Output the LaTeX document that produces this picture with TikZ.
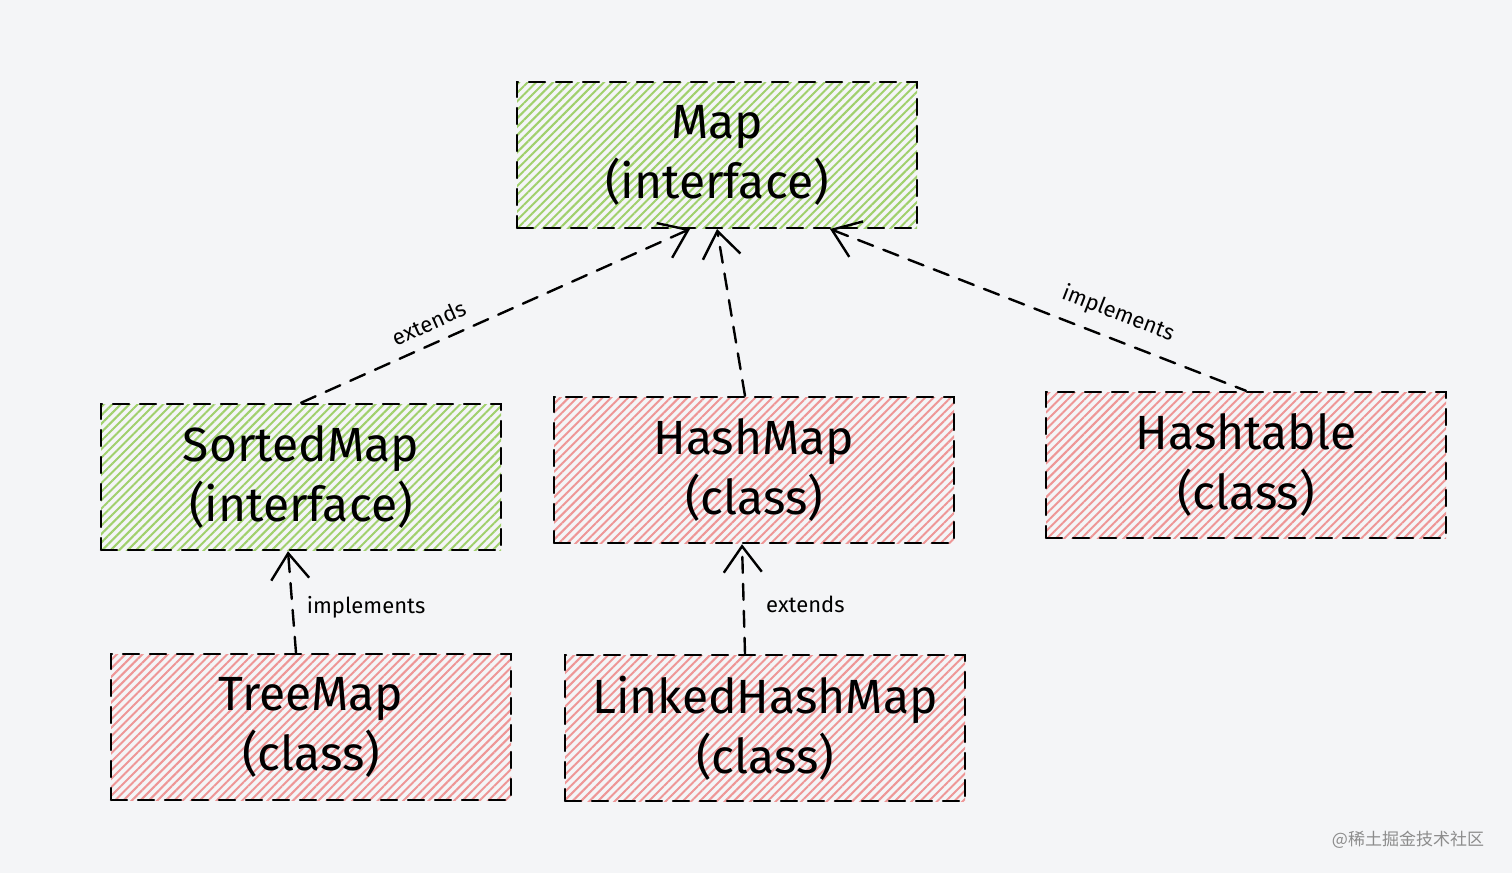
\documentclass[tikz,border=0pt]{standalone}
\usepackage{fontspec}
\setmainfont{Fira Sans}
\newfontfamily\cjk{Noto Sans CJK SC}
\usetikzlibrary{arrows.meta,patterns.meta}
\definecolor{paper}{RGB}{244,245,247}
\definecolor{hatchgreen}{RGB}{160,208,108}
\definecolor{hatchred}{RGB}{238,150,150}
\tikzset{
	sketchy/.style={dash pattern=on 16pt off 11pt, line width=2.4pt, line cap=round},
	box/.style={sketchy, draw=black, minimum width=400pt, minimum height=146pt, align=center, text=black, font=\fontsize{48}{60}\selectfont},
	ibox/.style={box, pattern={Lines[angle=45,distance=6pt,line width=2pt]}, pattern color=hatchgreen},
	cbox/.style={box, pattern={Lines[angle=45,distance=6pt,line width=2pt]}, pattern color=hatchred},
	rel/.style={sketchy, -{Straight Barb[length=26pt,width=38pt]}},
	relback/.style={sketchy, {Straight Barb[length=26pt,width=38pt]}-},
	lbl/.style={text=black, font=\fontsize{22}{26}\selectfont}
}

\begin{document}
\begin{tikzpicture}[x=1pt, y=-1pt]
				% Paper
				\fill[paper] (0,0) rectangle (1512,873);
				% Interfaces
				\node[ibox] (map) at (717,155) {Map\\(interface)};
				\node[ibox] (sm) at (301,477) {SortedMap\\(interface)};
				% Classes
				\node[cbox] (hm) at (754,470) {HashMap\\(class)};
				\node[cbox] (ht) at (1246,465) {Hashtable\\(class)};
				\node[cbox] (tm) at (311,727) {TreeMap\\(class)};
				\node[cbox] (lhm) at (765,728) {LinkedHashMap\\(class)};
				% Relations
				\draw[rel] (sm.north) -- ([xshift=-27pt]map.south)
					node[lbl, pos=0.35, sloped, above=8pt] (l1) {extends};
				\draw[rel] ([xshift=-9pt]hm.north) -- (map.south);
				\draw[relback] ([xshift=113pt]map.south) -- (ht.north)
					node[lbl, pos=0.67, sloped, above=10pt] (l2) {implements};
				\draw[rel] ([xshift=-15pt]tm.north) -- ([xshift=-13pt]sm.south)
					node[lbl, pos=0.45, right=10pt] (l3) {implements};
				\draw[rel] ([xshift=-20pt]lhm.north) -- ([xshift=-12pt]hm.south)
					node[lbl, pos=0.45, right=18pt] (l4) {extends};
				% Watermark
				\node[text=black!45, font=\cjk\fontsize{17}{20}\selectfont] (wm) at (1408,840) {@稀土掘金技术社区};
\end{tikzpicture}
\end{document}
